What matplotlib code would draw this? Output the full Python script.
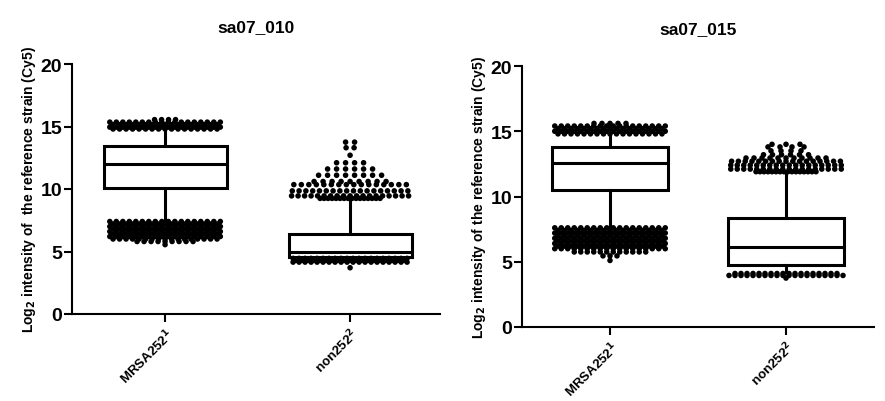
import numpy as np
import matplotlib.pyplot as plt

plt.rcParams['font.family'] = ['Liberation Sans', 'DejaVu Sans']
plt.rcParams['font.weight'] = 'bold'
plt.rcParams['mathtext.default'] = 'bf'

# Datos
grupos = ["MRSA252$^{1}$", "non252$^{2}$"]
titulos = ["sa07_010", "sa07_015"]
etiquetas_y = ["Log$_2$ intensity of  the reference strain (Cy5)",
               "Log$_2$ intensity of the reference strain (Cy5)"]

# cajas: (whislo, q1, med, q3, whishi)
cajas_010 = [(7.5, 10.1, 12.0, 13.45, 14.6), (4.6, 4.56, 5.0, 6.4, 9.25)]
cajas_015 = [(7.7, 10.5, 12.6, 13.8, 14.6), (4.2, 4.75, 6.1, 8.35, 11.85)]

# atipicos por filas: (valor, cantidad, separacion en px)
atip_010_mrsa = [(15.55, 4, 7), (15.35, 18, 6.5), (15.15, 17, 6.5), (14.95, 18, 6.5), (14.8, 17, 6.5),
                 (7.4, 18, 6.5), (7.2, 17, 6.5), (7.0, 18, 6.5), (6.8, 17, 6.5), (6.6, 18, 6.5),
                 (6.4, 17, 6.5), (6.2, 18, 6.5), (6.0, 17, 6.5), (5.8, 9, 7), (5.55, 1, 7)]
atip_010_non = [(13.75, 2, 9), (13.3, 2, 8), (12.7, 1, 7), (12.1, 4, 9), (11.6, 6, 9), (11.1, 8, 9),
                (10.6, 9, 9), (10.35, 16, 7.5), (9.85, 18, 6.8), (9.45, 19, 6.5), (9.25, 16, 4),
                (4.45, 20, 6), (4.3, 19, 6), (4.15, 20, 6), (3.7, 1, 7)]
atip_015_mrsa = [(15.6, 5, 8), (15.4, 18, 6.5), (15.2, 17, 6.5), (15.0, 18, 6.5), (14.8, 17, 6.5),
                 (7.6, 18, 6.5), (7.4, 17, 6.5), (7.2, 18, 6.5), (7.0, 17, 6.5), (6.8, 18, 6.5),
                 (6.6, 17, 6.5), (6.4, 18, 6.5), (6.2, 17, 6.5), (6.0, 18, 6.5), (5.75, 12, 6.5),
                 (5.45, 3, 7), (5.1, 1, 7)]
atip_015_non = [(14.0, 3, 14), (13.8, 4, 12), (13.5, 4, 10), (13.2, 6, 9), (12.95, 11, 8),
                (12.7, 17, 6.8), (12.4, 18, 6.5), (12.1, 18, 6.5), (11.9, 16, 4),
                (4.1, 18, 6), (3.95, 20, 6), (3.75, 1, 7)]

paneles = [
    dict(rect=[72 / 885, 87 / 402, 368 / 885, 250 / 402], xlim=(0.497, 2.486),
         cajas=cajas_010, atip=[atip_010_mrsa, atip_010_non], ancho=0.665, pad_t=24),
    dict(rect=[522 / 885, 74 / 402, 352 / 885, 261 / 402], xlim=(0.5, 2.5),
         cajas=cajas_015, atip=[atip_015_mrsa, atip_015_non], ancho=0.66, pad_t=24),
]

fig = plt.figure(figsize=(8.85, 4.02), dpi=100)

for i, p in enumerate(paneles):
    ax = fig.add_axes(p["rect"])
    ancho_px = p["rect"][2] * 885
    px_por_unidad = ancho_px / (p["xlim"][1] - p["xlim"][0])

    stats = []
    for lo, q1, med, q3, hi in p["cajas"]:
        stats.append(dict(whislo=lo, q1=q1, med=med, q3=q3, whishi=hi, fliers=[]))
    ax.bxp(stats, positions=[1, 2], widths=p["ancho"], showcaps=False, showfliers=False,
           patch_artist=True,
           boxprops=dict(facecolor="white", edgecolor="black", linewidth=2.2),
           medianprops=dict(color="black", linewidth=2.2),
           whiskerprops=dict(color="black", linewidth=2.2), zorder=2)

    for j, filas in enumerate(p["atip"]):
        xs, ys = [], []
        for val, n, sep in filas:
            off = (np.arange(n) - (n - 1) / 2) * sep / px_por_unidad
            xs.extend(j + 1 + off)
            ys.extend([val] * n)
        ax.scatter(xs, ys, s=16, color="black", edgecolors="none", zorder=3)

    ax.set_xlim(*p["xlim"])
    ax.set_ylim(0, 20)
    ax.set_yticks([0, 5, 10, 15, 20])
    ax.set_xticks([1, 2])
    ax.set_xticklabels(grupos, rotation=45, ha="right", rotation_mode="anchor",
                       fontsize=9.5, fontweight="bold")
    ax.tick_params(axis="y", labelsize=14, width=1.5, length=6, pad=1)
    ax.tick_params(axis="x", width=1.5, length=6, pad=2)
    for lab in ax.get_yticklabels():
        lab.set_fontweight("bold")
    for s in ["top", "right"]:
        ax.spines[s].set_visible(False)
    for s in ["left", "bottom"]:
        ax.spines[s].set_linewidth(1.5)
    ax.set_title(titulos[i], fontsize=12.5, fontweight="bold", pad=p["pad_t"])
    ax.set_ylabel(etiquetas_y[i], fontsize=10, fontweight="bold", labelpad=2)

plt.savefig("out.png", dpi=100)
